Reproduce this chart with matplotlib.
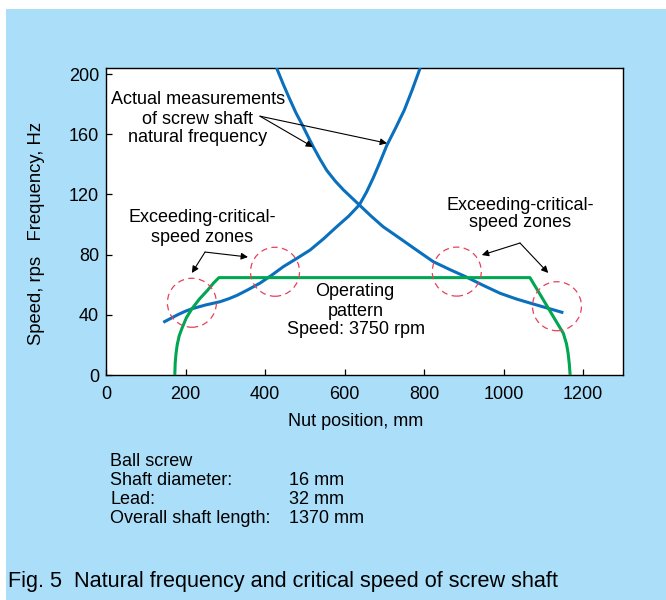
import matplotlib
matplotlib.use("Agg")
import matplotlib.pyplot as plt
from matplotlib.patches import Rectangle, Ellipse

plt.rcParams['font.family'] = ['Liberation Sans', 'DejaVu Sans']

# ---- data ----
rising_x = [144, 162, 180, 198, 216, 250, 287, 310, 330, 358, 387, 416, 446, 480,
            513, 547, 580, 610, 637, 655, 672, 689, 706, 728, 750, 770, 790]
rising_y = [35, 37.5, 40, 42.2, 44, 46.5, 48.7, 50.8, 53, 56.8, 61, 66.2, 72, 77.5,
            83, 90.5, 98.5, 105.5, 113, 121.5, 131, 141.5, 152.5, 164, 176, 189.5, 204]

falling_x = [429, 446, 463, 478, 492, 507, 521, 538, 555, 576, 597, 617, 637, 667,
             697, 739, 781, 823, 865, 907, 949, 991, 1032, 1074, 1112, 1150]
falling_y = [204, 193, 182.7, 174, 167, 159, 151.7, 143.5, 136, 129, 123, 118, 113,
             105.5, 98.5, 90.8, 83, 75.3, 70, 65, 59.5, 54.3, 50.5, 47.2, 44.3, 41.4]

pattern_x = [173, 174, 176, 179, 184, 191, 202, 216, 235, 256, 270, 284,
             1066, 1100, 1125, 1150, 1158, 1162, 1165, 1167]
pattern_y = [0, 8, 14, 20, 26, 31, 38, 44, 50.5, 56.5, 61, 64.7,
             64.7, 49.8, 38.7, 27.7, 20.6, 14.4, 7.3, 0]

zone_x = [216, 425, 882, 1134]
zone_y = [48, 68.6, 68.7, 45.7]

xticks = [0, 200, 400, 600, 800, 1000, 1200]
yticks = [0, 40, 80, 120, 160, 200]

spec_names = ["Ball screw", "Shaft diameter:", "Lead:", "Overall shaft length:"]
spec_values = ["", "16 mm", "32 mm", "1370 mm"]

W, H = 666, 600
fig = plt.figure(figsize=(W / 100, H / 100), dpi=100)
fig.patch.set_facecolor('white')
fig.patches.append(Rectangle((6 / W, 0), 1, 1 - 9 / H, transform=fig.transFigure,
                             facecolor='#aadef9', edgecolor='none', zorder=-10))


def ftext(px, py, s, **kw):
    kw.setdefault('fontsize', 13)
    kw.setdefault('va', 'center')
    return fig.text(px / W, 1 - py / H, s, **kw)


ax = fig.add_axes([106 / W, 1 - 375 / H, (623 - 106) / W, (375 - 68) / H])
ax.set_facecolor('white')
ax.set_xlim(0, 1300)
ax.set_ylim(0, 204)
for s in ax.spines.values():
    s.set_linewidth(1.0)
    s.set_color('black')
ax.set_xticks(xticks)
ax.set_yticks(yticks)
ax.tick_params(direction='in', length=4, width=0.9, labelsize=13)
ax.tick_params(axis='x', pad=8)
ax.tick_params(axis='y', pad=5)

blue = '#0a70bd'
green = '#00a651'
red = '#e8405a'

ax.plot(rising_x, rising_y, color=blue, lw=2.2, solid_capstyle='butt',
        solid_joinstyle='round', zorder=3)
ax.plot(falling_x, falling_y, color=blue, lw=2.2, solid_capstyle='butt',
        solid_joinstyle='round', zorder=3)
ax.plot(pattern_x, pattern_y, color=green, lw=2.2, solid_joinstyle='round', zorder=4)

rx, ry = 24.5 / 0.3977, 24.5 / 1.505
for cx, cy in zip(zone_x, zone_y):
    ax.add_patch(Ellipse((cx, cy), 2 * rx, 2 * ry, fill=False, edgecolor=red,
                         lw=0.9, ls=(0, (5, 3.5)), zorder=5))

ap = dict(arrowstyle='-|>', color='black', lw=0.8, mutation_scale=10, shrinkA=0, shrinkB=0)

ftext(198, 100, "Actual measurements", ha='center')
ftext(198, 119, "of screw shaft", ha='center')
ftext(198, 138, "natural frequency", ha='center')
for tip in [(520.5, 151.5), (706.6, 154)]:
    ax.annotate("", xy=tip, xytext=(387, 172), arrowprops=ap)

ftext(202, 218, "Exceeding-critical-", ha='center')
ftext(202, 237, "speed zones", ha='center')
for tip in [(216, 67.8), (357, 78.4)]:
    ax.annotate("", xy=tip, xytext=(249, 81.7), arrowprops=ap)

ftext(520, 205, "Exceeding-critical-", ha='center')
ftext(520, 223, "speed zones", ha='center')
for tip in [(945, 79.7), (1112, 67.8)]:
    ax.annotate("", xy=tip, xytext=(1041, 87.7), arrowprops=ap)

ftext(355, 292, "Operating", ha='center')
ftext(356, 311, "pattern", ha='center')
ftext(356, 330, "Speed: 3750 rpm", ha='center')

ftext(356, 422, "Nut position, mm", ha='center')
ftext(37, 233, "Speed, rps   Frequency, Hz", ha='center', rotation=90, fontsize=13.3)

for i, (n, v) in enumerate(zip(spec_names, spec_values)):
    py = 462 + i * 18.7
    ftext(110, py, n, ha='left')
    if v:
        ftext(289, py, v, ha='left')

ftext(8, 582, "Fig. 5  Natural frequency and critical speed of screw shaft",
      ha='left', fontsize=15.6)

fig.savefig("out.png", dpi=100, facecolor=fig.get_facecolor())
